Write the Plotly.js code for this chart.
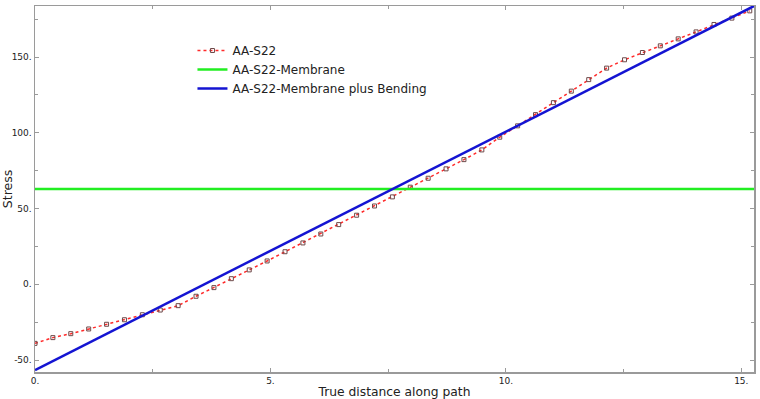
<!DOCTYPE html>
<html>
<head>
<meta charset="utf-8">
<script src="https://cdn.plot.ly/plotly-3.0.1.min.js"></script>
<style>html,body{margin:0;padding:0;background:#fff;}#chart{width:760px;height:399px;}</style>
</head>
<body>
<div id="chart"></div>
<script>
// True distance along path for AA-S22 samples
var distS22 = [0, 0.38, 0.76, 1.14, 1.52, 1.90, 2.28, 2.66, 3.04, 3.42,
  3.80, 4.17, 4.55, 4.93, 5.31, 5.69, 6.07, 6.45, 6.83, 7.21,
  7.59, 7.97, 8.35, 8.73, 9.11, 9.49, 9.87, 10.25, 10.63, 11.01,
  11.39, 11.76, 12.14, 12.52, 12.90, 13.28, 13.66, 14.04, 14.42, 14.80, 15.18];
var stressS22 = [-39.0, -35.2, -32.6, -29.5, -26.4, -23.4, -20.1, -17.0, -14.1, -7.9,
  -2.2, 3.7, 9.5, 15.4, 21.5, 27.3, 33.2, 39.4, 45.6, 51.7,
  57.7, 64.1, 70.0, 76.2, 82.3, 88.7, 97.1, 104.6, 112.0, 119.9,
  127.5, 135.1, 142.7, 148.2, 153.0, 157.4, 162.0, 166.6, 171.5, 175.7, 180.5];
// Membrane (constant) and membrane plus bending (linear) end points
var distLine = [0, 15.27];
var stressMembrane = [62.9, 62.9];
var stressMembBend = [-56.6, 183.7];

var seriesNames = ["AA-S22", "AA-S22-Membrane", "AA-S22-Membrane plus Bending"];
var xTickVals = [0, 5, 10, 15];
var xTickText = ["0.", "5.", "10.", "15."];
var yTickVals = [-50, 0, 50, 100, 150];
var yTickText = ["-50.", "0.", "50.", "100.", "150."];

var traces = [
  {x: distS22, y: stressS22, name: seriesNames[0], type: "scatter", mode: "lines+markers",
   line: {color: "#ff2a2a", width: 1.5, dash: "dot"},
   marker: {symbol: "square-open", size: 4, color: "#6e4a4a", line: {width: 1}}},
  {x: distLine, y: stressMembrane, name: seriesNames[1], type: "scatter", mode: "lines",
   line: {color: "#22ee22", width: 2.5}},
  {x: distLine, y: stressMembBend, name: seriesNames[2], type: "scatter", mode: "lines",
   line: {color: "#1414d2", width: 2.5}}
];

var layout = {
  width: 760, height: 399,
  margin: {l: 35, r: 6, t: 6, b: 27},
  paper_bgcolor: "#fff", plot_bgcolor: "#fff",
  font: {family: "DejaVu Sans, Verdana, sans-serif", color: "#222"},
  showlegend: true,
  legend: {x: 0.219, y: 0.918, xanchor: "left", yanchor: "top",
    bgcolor: "rgba(0,0,0,0)", font: {size: 12, color: "#222"}, tracegroupgap: 0},
  xaxis: {range: [0, 15.27], tickvals: xTickVals, ticktext: xTickText,
    showgrid: false, zeroline: false, showline: true, linecolor: "#9a9a9a", linewidth: 1.5,
    mirror: "ticks", ticks: "inside", ticklen: 4, tickcolor: "#9a9a9a",
    tickfont: {size: 9, color: "#222"},
    minor: {tickvals: [2.5, 7.5, 12.5], ticks: "inside", ticklen: 3, tickcolor: "#9a9a9a"},
    title: {text: "True distance along path", font: {size: 12.3, color: "#222"}, standoff: 2}},
  yaxis: {range: [-57.9, 183.7], tickvals: yTickVals, ticktext: yTickText,
    showgrid: false, zeroline: false, showline: true, linecolor: "#9a9a9a", linewidth: 1.5,
    mirror: "ticks", ticks: "inside", ticklen: 4, tickcolor: "#9a9a9a",
    tickfont: {size: 9, color: "#222"},
    minor: {tickvals: [-25, 25, 75, 125, 175], ticks: "inside", ticklen: 3, tickcolor: "#9a9a9a"},
    title: {text: "Stress", font: {size: 12.5, color: "#222"}, standoff: 6}}
};

Plotly.newPlot("chart", traces, layout, {displayModeBar: false, staticPlot: true});
</script>
</body>
</html>
